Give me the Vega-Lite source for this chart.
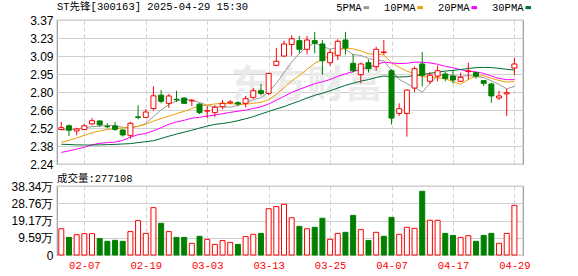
{
  "$schema": "https://vega.github.io/schema/vega-lite/v6.json",
  "padding": {"left": 10, "top": 0, "right": 0, "bottom": 0},
  "background": "white",
  "spacing": 1,
  "config": {
    "view": {"stroke": "#999999", "strokeWidth": 1.2},
    "axis": {"labelFont": "Liberation Sans", "labelFontSize": 12, "labelColor": "#000000", "ticks": false, "domain": false, "gridColor": "#d0d0d0", "gridWidth": 1, "labelPadding": 4, "labelOverlap": false},
    "title": {"font": "'Liberation Mono', 'Noto Sans CJK SC'", "fontSize": 10.5, "fontWeight": "normal", "color": "#000000", "anchor": "start", "frame": "group"}
  },
  "resolve": {"scale": {"color": "independent"}},
  "datasets": {
    "k": [
      {"d":"01-27","o":2.51,"h":2.57,"l":2.51,"c":2.525,"dir":"up","v":14.6,"vd":"up","5PMA":2.507,"10PMA":2.41,"20PMA":2.331,"30PMA":2.395},
      {"d":"02-05","o":2.54,"h":2.55,"l":2.46,"c":2.505,"dir":"down","v":9.8,"vd":"down","5PMA":2.51,"10PMA":2.425,"20PMA":2.343,"30PMA":2.393},
      {"d":"02-06","o":2.50,"h":2.525,"l":2.465,"c":2.515,"dir":"up","v":11.3,"vd":"up","5PMA":2.515,"10PMA":2.445,"20PMA":2.357,"30PMA":2.39},
      {"d":"02-07","o":2.51,"h":2.555,"l":2.505,"c":2.54,"dir":"up","v":11.85,"vd":"up","5PMA":2.525,"10PMA":2.465,"20PMA":2.372,"30PMA":2.389},
      {"d":"02-10","o":2.555,"h":2.60,"l":2.545,"c":2.58,"dir":"up","v":11.85,"vd":"up","5PMA":2.533,"10PMA":2.485,"20PMA":2.39,"30PMA":2.389},
      {"d":"02-11","o":2.578,"h":2.58,"l":2.533,"c":2.547,"dir":"down","v":9.1,"vd":"down","5PMA":2.537,"10PMA":2.50,"20PMA":2.402,"30PMA":2.39},
      {"d":"02-12","o":2.535,"h":2.56,"l":2.52,"c":2.532,"dir":"down","v":7.6,"vd":"down","5PMA":2.543,"10PMA":2.51,"20PMA":2.408,"30PMA":2.392},
      {"d":"02-13","o":2.538,"h":2.57,"l":2.50,"c":2.512,"dir":"down","v":8.15,"vd":"down","5PMA":2.542,"10PMA":2.518,"20PMA":2.412,"30PMA":2.394},
      {"d":"02-14","o":2.507,"h":2.51,"l":2.455,"c":2.468,"dir":"down","v":7.6,"vd":"down","5PMA":2.528,"10PMA":2.523,"20PMA":2.425,"30PMA":2.397},
      {"d":"02-17","o":2.465,"h":2.57,"l":2.44,"c":2.56,"dir":"up","v":13.0,"vd":"up","5PMA":2.524,"10PMA":2.528,"20PMA":2.45,"30PMA":2.40},
      {"d":"02-18","o":2.61,"h":2.70,"l":2.59,"c":2.605,"dir":"down","v":19.1,"vd":"up","5PMA":2.535,"10PMA":2.536,"20PMA":2.47,"30PMA":2.408},
      {"d":"02-19","o":2.606,"h":2.67,"l":2.60,"c":2.648,"dir":"up","v":12.0,"vd":"up","5PMA":2.559,"10PMA":2.551,"20PMA":2.48,"30PMA":2.415},
      {"d":"02-20","o":2.675,"h":2.85,"l":2.66,"c":2.775,"dir":"up","v":26.3,"vd":"up","5PMA":2.611,"10PMA":2.577,"20PMA":2.50,"30PMA":2.423},
      {"d":"02-21","o":2.78,"h":2.82,"l":2.716,"c":2.732,"dir":"down","v":17.6,"vd":"down","5PMA":2.664,"10PMA":2.596,"20PMA":2.525,"30PMA":2.44},
      {"d":"02-24","o":2.716,"h":2.79,"l":2.68,"c":2.774,"dir":"up","v":13.0,"vd":"up","5PMA":2.707,"10PMA":2.615,"20PMA":2.552,"30PMA":2.458},
      {"d":"02-25","o":2.748,"h":2.815,"l":2.726,"c":2.743,"dir":"down","v":9.8,"vd":"down","5PMA":2.734,"10PMA":2.635,"20PMA":2.57,"30PMA":2.475},
      {"d":"02-26","o":2.758,"h":2.76,"l":2.714,"c":2.716,"dir":"down","v":9.8,"vd":"down","5PMA":2.748,"10PMA":2.653,"20PMA":2.583,"30PMA":2.49},
      {"d":"02-27","o":2.735,"h":2.748,"l":2.695,"c":2.74,"dir":"up","v":6.5,"vd":"up","5PMA":2.741,"10PMA":2.676,"20PMA":2.60,"30PMA":2.505},
      {"d":"02-28","o":2.71,"h":2.716,"l":2.632,"c":2.643,"dir":"down","v":10.4,"vd":"down","5PMA":2.723,"10PMA":2.694,"20PMA":2.606,"30PMA":2.522},
      {"d":"03-03","o":2.655,"h":2.695,"l":2.60,"c":2.658,"dir":"up","v":8.7,"vd":"up","5PMA":2.70,"10PMA":2.703,"20PMA":2.616,"30PMA":2.537},
      {"d":"03-04","o":2.643,"h":2.70,"l":2.61,"c":2.685,"dir":"up","v":5.9,"vd":"up","5PMA":2.688,"10PMA":2.711,"20PMA":2.624,"30PMA":2.551},
      {"d":"03-05","o":2.69,"h":2.742,"l":2.67,"c":2.716,"dir":"up","v":8.0,"vd":"up","5PMA":2.688,"10PMA":2.718,"20PMA":2.634,"30PMA":2.558},
      {"d":"03-06","o":2.72,"h":2.742,"l":2.71,"c":2.727,"dir":"up","v":7.0,"vd":"up","5PMA":2.686,"10PMA":2.713,"20PMA":2.645,"30PMA":2.567},
      {"d":"03-07","o":2.721,"h":2.732,"l":2.695,"c":2.711,"dir":"down","v":5.9,"vd":"down","5PMA":2.699,"10PMA":2.711,"20PMA":2.654,"30PMA":2.58},
      {"d":"03-10","o":2.716,"h":2.774,"l":2.685,"c":2.753,"dir":"up","v":10.2,"vd":"up","5PMA":2.718,"10PMA":2.709,"20PMA":2.662,"30PMA":2.595},
      {"d":"03-11","o":2.763,"h":2.836,"l":2.753,"c":2.815,"dir":"up","v":11.5,"vd":"up","5PMA":2.744,"10PMA":2.716,"20PMA":2.676,"30PMA":2.612},
      {"d":"03-12","o":2.815,"h":2.868,"l":2.78,"c":2.794,"dir":"down","v":12.0,"vd":"down","5PMA":2.76,"10PMA":2.724,"20PMA":2.689,"30PMA":2.632},
      {"d":"03-13","o":2.794,"h":2.956,"l":2.78,"c":2.951,"dir":"up","v":25.7,"vd":"up","5PMA":2.805,"10PMA":2.745,"20PMA":2.711,"30PMA":2.652},
      {"d":"03-14","o":3.014,"h":3.15,"l":3.01,"c":3.046,"dir":"up","v":26.9,"vd":"up","5PMA":2.872,"10PMA":2.786,"20PMA":2.74,"30PMA":2.672},
      {"d":"03-17","o":3.087,"h":3.208,"l":3.082,"c":3.182,"dir":"up","v":28.2,"vd":"up","5PMA":2.958,"10PMA":2.838,"20PMA":2.771,"30PMA":2.69},
      {"d":"03-18","o":3.178,"h":3.25,"l":3.09,"c":3.223,"dir":"up","v":20.7,"vd":"up","5PMA":3.039,"10PMA":2.892,"20PMA":2.802,"30PMA":2.713},
      {"d":"03-19","o":3.208,"h":3.245,"l":3.108,"c":3.14,"dir":"down","v":15.9,"vd":"down","5PMA":3.108,"10PMA":2.934,"20PMA":2.826,"30PMA":2.734},
      {"d":"03-20","o":3.14,"h":3.245,"l":3.10,"c":3.213,"dir":"up","v":14.6,"vd":"up","5PMA":3.161,"10PMA":2.983,"20PMA":2.848,"30PMA":2.758},
      {"d":"03-21","o":3.208,"h":3.276,"l":3.108,"c":3.187,"dir":"down","v":15.4,"vd":"down","5PMA":3.189,"10PMA":3.03,"20PMA":2.871,"30PMA":2.779},
      {"d":"03-24","o":3.182,"h":3.213,"l":2.94,"c":3.05,"dir":"down","v":20.4,"vd":"down","5PMA":3.163,"10PMA":3.06,"20PMA":2.885,"30PMA":2.795},
      {"d":"03-25","o":3.035,"h":3.14,"l":3.01,"c":3.114,"dir":"up","v":8.7,"vd":"up","5PMA":3.141,"10PMA":3.09,"20PMA":2.903,"30PMA":2.814},
      {"d":"03-26","o":3.093,"h":3.218,"l":3.056,"c":3.203,"dir":"up","v":12.0,"vd":"up","5PMA":3.153,"10PMA":3.131,"20PMA":2.928,"30PMA":2.836},
      {"d":"03-27","o":3.213,"h":3.276,"l":3.098,"c":3.15,"dir":"down","v":12.6,"vd":"down","5PMA":3.141,"10PMA":3.151,"20PMA":2.948,"30PMA":2.857},
      {"d":"03-28","o":3.03,"h":3.103,"l":2.957,"c":2.972,"dir":"down","v":22.0,"vd":"down","5PMA":3.098,"10PMA":3.143,"20PMA":2.965,"30PMA":2.874},
      {"d":"03-31","o":2.941,"h":3.035,"l":2.873,"c":3.025,"dir":"up","v":14.1,"vd":"up","5PMA":3.093,"10PMA":3.128,"20PMA":2.983,"30PMA":2.89},
      {"d":"04-01","o":3.035,"h":3.06,"l":2.957,"c":2.988,"dir":"down","v":8.1,"vd":"down","5PMA":3.068,"10PMA":3.104,"20PMA":2.998,"30PMA":2.902},
      {"d":"04-02","o":3.004,"h":3.16,"l":2.972,"c":3.14,"dir":"up","v":12.6,"vd":"up","5PMA":3.055,"10PMA":3.104,"20PMA":3.019,"30PMA":2.919},
      {"d":"04-03","o":3.114,"h":3.213,"l":3.098,"c":3.119,"dir":"up","v":10.4,"vd":"down","5PMA":3.049,"10PMA":3.095,"20PMA":3.039,"30PMA":2.93},
      {"d":"04-07","o":2.972,"h":2.983,"l":2.55,"c":2.60,"dir":"down","v":20.9,"vd":"down","5PMA":2.974,"10PMA":3.036,"20PMA":3.033,"30PMA":2.926},
      {"d":"04-08","o":2.637,"h":2.716,"l":2.617,"c":2.674,"dir":"up","v":11.5,"vd":"up","5PMA":2.904,"10PMA":2.999,"20PMA":3.029,"30PMA":2.923},
      {"d":"04-09","o":2.637,"h":2.826,"l":2.455,"c":2.82,"dir":"up","v":15.4,"vd":"up","5PMA":2.871,"10PMA":2.969,"20PMA":3.03,"30PMA":2.925},
      {"d":"04-10","o":2.836,"h":3.004,"l":2.805,"c":2.988,"dir":"up","v":14.8,"vd":"up","5PMA":2.84,"10PMA":2.948,"20PMA":3.039,"30PMA":2.934},
      {"d":"04-11","o":3.025,"h":3.12,"l":2.847,"c":2.936,"dir":"down","v":35.4,"vd":"down","5PMA":2.804,"10PMA":2.926,"20PMA":3.039,"30PMA":2.941},
      {"d":"04-14","o":2.889,"h":2.962,"l":2.868,"c":2.936,"dir":"up","v":19.3,"vd":"up","5PMA":2.871,"10PMA":2.923,"20PMA":3.033,"30PMA":2.951},
      {"d":"04-15","o":2.93,"h":3.014,"l":2.889,"c":2.972,"dir":"up","v":19.3,"vd":"up","5PMA":2.93,"10PMA":2.917,"20PMA":3.023,"30PMA":2.961},
      {"d":"04-16","o":2.946,"h":2.962,"l":2.889,"c":2.91,"dir":"down","v":12.0,"vd":"down","5PMA":2.948,"10PMA":2.91,"20PMA":3.007,"30PMA":2.969},
      {"d":"04-17","o":2.93,"h":2.972,"l":2.873,"c":2.899,"dir":"down","v":10.9,"vd":"down","5PMA":2.931,"10PMA":2.885,"20PMA":2.995,"30PMA":2.975},
      {"d":"04-18","o":2.889,"h":2.957,"l":2.883,"c":2.92,"dir":"up","v":9.8,"vd":"up","5PMA":2.927,"10PMA":2.866,"20PMA":2.98,"30PMA":2.981},
      {"d":"04-21","o":2.965,"h":3.035,"l":2.904,"c":2.97,"dir":"up","v":10.7,"vd":"up","5PMA":2.934,"10PMA":2.903,"20PMA":2.969,"30PMA":2.99},
      {"d":"04-22","o":2.957,"h":2.962,"l":2.91,"c":2.93,"dir":"down","v":7.6,"vd":"down","5PMA":2.926,"10PMA":2.928,"20PMA":2.963,"30PMA":2.996},
      {"d":"04-23","o":2.894,"h":2.899,"l":2.852,"c":2.873,"dir":"down","v":10.9,"vd":"down","5PMA":2.918,"10PMA":2.933,"20PMA":2.951,"30PMA":2.998},
      {"d":"04-24","o":2.868,"h":2.878,"l":2.721,"c":2.774,"dir":"down","v":12.0,"vd":"down","5PMA":2.893,"10PMA":2.912,"20PMA":2.93,"30PMA":2.997},
      {"d":"04-25","o":2.758,"h":2.815,"l":2.742,"c":2.774,"dir":"up","v":6.5,"vd":"up","5PMA":2.864,"10PMA":2.896,"20PMA":2.911,"30PMA":2.991},
      {"d":"04-28","o":2.79,"h":2.83,"l":2.617,"c":2.80,"dir":"up","v":12.0,"vd":"up","5PMA":2.83,"10PMA":2.882,"20PMA":2.902,"30PMA":2.983},
      {"d":"04-29","o":2.993,"h":3.072,"l":2.936,"c":3.025,"dir":"up","v":27.6,"vd":"up","5PMA":2.849,"10PMA":2.888,"20PMA":2.902,"30PMA":2.978}
    ]
  },
  "vconcat": [
    {
      "width": 466,
      "height": 144,
      "title": {"text": "ST先锋[300163] 2025-04-29 15:30", "offset": -10},
      "data": {"name": "k"},
      "encoding": {
        "x": {"field": "d", "type": "ordinal", "scale": {"type": "point", "padding": 0.84, "align": 0.333},
          "axis": {"values": ["02-07","02-19","03-03","03-13","03-25","04-07","04-17","04-29"], "labels": false, "grid": true, "gridDash": [4, 3], "title": null}}
      },
      "layer": [
        {
          "data": {"values": [{"t": "东方财富"}]},
          "mark": {"type": "text", "font": "Noto Sans CJK SC", "fontSize": 38, "fontWeight": "bold", "color": "#ebebeb", "align": "center", "baseline": "middle"},
          "encoding": {"x": {"datum": "03-20"}, "y": {"datum": 2.85}, "text": {"field": "t"}}
        },
        {
          "transform": [{"fold": ["5PMA", "10PMA", "20PMA", "30PMA"], "as": ["ma", "val"]}],
          "mark": {"type": "line", "strokeWidth": 1},
          "encoding": {
            "y": {"field": "val", "type": "quantitative", "scale": {"domain": [2.24, 3.37], "nice": false, "zero": false},
              "axis": {"values": [2.24, 2.38125, 2.5225, 2.66375, 2.805, 2.94625, 3.0875, 3.22875, 3.37], "tickCount": 20, "labelExpr": "format(datum.value - 0.0001, '.2f')", "title": null, "grid": true}},
            "color": {"field": "ma", "type": "nominal", "sort": ["5PMA", "10PMA", "20PMA", "30PMA"],
              "scale": {"domain": ["5PMA", "10PMA", "20PMA", "30PMA"], "range": ["#9a9a9a", "#f0a000", "#ff00ff", "#006a30"]},
              "legend": {"orient": "none", "legendX": 304, "legendY": -18, "direction": "horizontal", "title": null,
                "labelFont": "'Liberation Mono'", "labelFontSize": 10.5, "labelColor": "#000000",
                "symbolType": "stroke", "symbolStrokeWidth": 3, "symbolSize": 30, "labelAlign": "right", "labelOffset": -10, "columnPadding": 8, "padding": 0}}
          }
        },
        {
          "mark": {"type": "rule", "strokeWidth": 1},
          "encoding": {
            "y": {"field": "l", "type": "quantitative"},
            "y2": {"field": "h"},
            "stroke": {"field": "dir", "type": "nominal", "scale": {"domain": ["up", "down"], "range": ["#ff0000", "#008000"]}, "legend": null}
          }
        },
        {
          "mark": {"type": "bar", "size": 5, "strokeWidth": 1},
          "encoding": {
            "y": {"field": "o", "type": "quantitative"},
            "y2": {"field": "c"},
            "fill": {"field": "dir", "type": "nominal", "scale": {"domain": ["up", "down"], "range": ["#ffffff", "#008000"]}, "legend": null},
            "stroke": {"field": "dir", "type": "nominal", "scale": {"domain": ["up", "down"], "range": ["#ff0000", "#008000"]}, "legend": null}
          }
        }
      ]
    },
    {
      "width": 466,
      "height": 69,
      "title": {"text": "成交量:277108", "offset": -4},
      "data": {"name": "k"},
      "mark": {"type": "bar", "size": 5, "strokeWidth": 1},
      "encoding": {
        "x": {"field": "d", "type": "ordinal", "scale": {"type": "point", "padding": 0.84, "align": 0.333},
          "axis": {"values": ["02-07","02-19","03-03","03-13","03-25","04-07","04-17","04-29"], "grid": true, "gridDash": [4, 3], "title": null,
            "labelAngle": 0, "labelOverlap": false, "labelColor": "#ff0000", "labelFont": "'Liberation Mono'", "labelFontSize": 10.5, "labelPadding": 5}},
        "y": {"field": "v", "type": "quantitative", "scale": {"domain": [0, 38.34], "nice": false},
          "axis": {"values": [0, 9.585, 19.17, 28.755, 38.34], "tickCount": 20, "labelExpr": "datum.value == 0 ? '0' : format(datum.value + 0.0001, '.2f') + '万'", "title": null, "grid": true}},
        "fill": {"field": "vd", "type": "nominal", "scale": {"domain": ["up", "down"], "range": ["#ffffff", "#008000"]}, "legend": null},
        "stroke": {"field": "vd", "type": "nominal", "scale": {"domain": ["up", "down"], "range": ["#ff0000", "#008000"]}, "legend": null}
      }
    }
  ]
}
